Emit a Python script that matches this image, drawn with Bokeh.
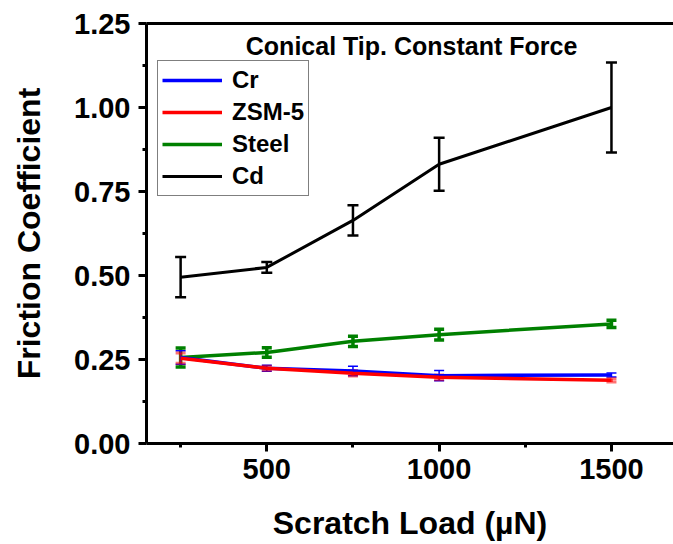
from bokeh.plotting import figure
from bokeh.models import (Range1d, FixedTicker, LinearAxis, Whisker, TeeHead,
                          ColumnDataSource, Legend, LegendItem, Label)
from bokeh.embed import file_html
from bokeh.resources import INLINE

# ---- data ----
loads = [250, 500, 750, 1000, 1500]
cr = [0.256, 0.224, 0.216, 0.202, 0.204]
cr_err = [0.020, 0.009, 0.014, 0.015, 0.006]
zsm = [0.254, 0.224, 0.209, 0.197, 0.188]
zsm_err = [0.015, 0.006, 0.008, 0.007, 0.005]
steel = [0.256, 0.271, 0.304, 0.324, 0.356]
steel_err = [0.028, 0.014, 0.015, 0.016, 0.011]
cd = [0.495, 0.524, 0.664, 0.831, 1.000]
cd_err = [0.060, 0.016, 0.045, 0.079, 0.134]

x_ticks = [500, 1000, 1500]
x_tick_labels = ["500", "1000", "1500"]
x_minor = [250, 750, 1250, 1750]
y_ticks = [0.0, 0.25, 0.5, 0.75, 1.0, 1.25]
y_tick_labels = ["0.00", "0.25", "0.50", "0.75", "1.00", "1.25"]
y_minor = [0.125, 0.375, 0.625, 0.875, 1.125]

FONT = "Liberation Sans"

p = figure(width=673, height=544, output_backend="svg", toolbar_location=None,
           x_range=Range1d(151, 1680), y_range=Range1d(0, 1.25),
           min_border_left=146, min_border_right=0, min_border_top=23,
           min_border_bottom=101)
p.outline_line_color = None
p.xgrid.visible = False
p.ygrid.visible = False
p.background_fill_color = "white"
p.border_fill_color = "white"

def style_axis(ax, ticks, minor, labels):
    ax.ticker = FixedTicker(ticks=ticks, minor_ticks=minor)
    ax.major_label_overrides = dict(zip(ticks, labels))
    ax.axis_line_width = 3
    ax.axis_line_color = "black"
    ax.major_tick_line_width = 3
    ax.minor_tick_line_width = 3
    ax.major_tick_in = 0
    ax.major_tick_out = 8
    ax.minor_tick_in = 0
    ax.minor_tick_out = 4
    ax.major_label_text_font = FONT
    ax.major_label_text_font_style = "bold"
    ax.major_label_text_font_size = "29px"
    ax.major_label_text_color = "black"
    ax.axis_label_text_font = FONT
    ax.axis_label_text_font_style = "bold"
    ax.axis_label_text_font_size = "32px"
    ax.axis_label_text_color = "black"

xa = p.xaxis[0]
style_axis(xa, x_ticks, x_minor, x_tick_labels)
xa.axis_label = "Scratch Load (µN)"
xa.major_label_standoff = 7
xa.axis_label_standoff = 23

ya = p.yaxis[0]
style_axis(ya, y_ticks, y_minor, y_tick_labels)
ya.axis_label = "Friction Coefficient"
ya.major_label_standoff = 8
ya.axis_label_standoff = 24

top = LinearAxis(ticker=FixedTicker(ticks=[]), axis_line_width=3,
                 major_tick_in=0, major_tick_out=0, minor_tick_in=0, minor_tick_out=0)
p.add_layout(top, "above")

def series(y, err, color, lw, elw, ealpha, cap):
    src = ColumnDataSource(dict(x=loads, y=y,
                                upper=[a + b for a, b in zip(y, err)],
                                lower=[a - b for a, b in zip(y, err)]))
    w = Whisker(source=src, base="x", upper="upper", lower="lower",
                dimension="height", line_color=color, line_width=elw, line_alpha=ealpha,
                upper_head=TeeHead(size=cap, line_color=color, line_width=elw, line_alpha=ealpha),
                lower_head=TeeHead(size=cap, line_color=color, line_width=elw, line_alpha=ealpha))
    p.add_layout(w)
    r = p.line("x", "y", source=src, line_color=color, line_width=lw)
    return r

r_steel = series(steel, steel_err, "#008000", 3.5, 3.5, 1.0, 10)
r_cr = series(cr, cr_err, "#0000FF", 3.5, 1.5, 1.0, 10)
r_zsm = series(zsm, zsm_err, "#FF0000", 3.5, 3, 0.55, 10)
r_cd = series(cd, cd_err, "black", 3, 2.5, 1.0, 11)

legend = Legend(items=[LegendItem(label="Cr", renderers=[r_cr]),
                       LegendItem(label="ZSM-5", renderers=[r_zsm]),
                       LegendItem(label="Steel", renderers=[r_steel]),
                       LegendItem(label="Cd", renderers=[r_cd])],
                location=(11, 247), margin=0, padding=4, spacing=2,
                glyph_width=60, glyph_height=30, label_height=30, label_standoff=10,
                label_text_font=FONT, label_text_font_style="bold",
                label_text_font_size="24px", label_text_color="black",
                border_line_color="black", border_line_width=1,
                background_fill_alpha=1.0)
p.add_layout(legend)

title = Label(x=920, y=1.1845, text="Conical Tip. Constant Force",
              text_align="center", text_baseline="middle",
              text_font=FONT, text_font_style="bold", text_font_size="25px",
              text_color="black")
p.add_layout(title)

open("out.html", "w").write(file_html(p, INLINE))
